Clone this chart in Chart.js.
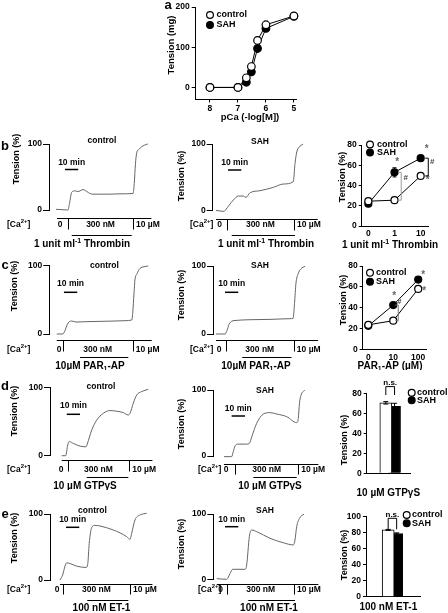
<!DOCTYPE html>
<html><head><meta charset="utf-8">
<script src="https://cdn.jsdelivr.net/npm/chart.js@4"></script>
<style>
html,body{margin:0;padding:0;background:#fff;width:448px;height:613px;overflow:hidden;position:relative}
canvas{position:absolute}
</style></head><body>
<script>
// ---------------- DATA ----------------
// panel a: pCa-tension
const pCa = [8, 7, 6.7, 6.52, 6.3, 6, 5];
const aControl = [0, 0, 24, 52, 117, 156, 178];
const aControlErr = [0, 0, 3, 5, 8, 9, 5];
const aSAH = [0, 0, 13, 39, 97, 147, 177];
const aSAHErr = [0, 0, 3, 4, 7, 6, 5];

// panel b/c right: dose responses
const thrombinDoses = ['0', '1', '10'];
const thrombinControl = [24.5, 25.5, 49.5];
const thrombinControlErr = [1.5, 1.5, 2.5];
const thrombinSAH = [22, 53, 67];
const thrombinSAHErr = [1.5, 4.5, 2];

const parDoses = ['0', '10', '100'];
const parControl = [23.5, 27.5, 58];
const parControlErr = [1.5, 1.5, 2];
const parSAH = [22.5, 42.5, 67];
const parSAHErr = [1.5, 2, 1.5];

// panel d/e right: bars
const groups = ['control', 'SAH'];
const gtpValues = [70.5, 67];
const gtpErr = [1.2, 3];
const et1Values = [83.5, 79];
const et1Err = [0.6, 0.8];

// traces: time (min) and tension (%)
const bCtrlT = [5.3, 9.8, 14.3, 15.4, 17.1, 19.6, 21.8, 23.3, 25.6, 28.4, 30.8, 33.1, 45.9, 53.4, 63.2, 64.1, 65.0, 65.9, 67.7, 69.7, 73.5, 74.4];
const bCtrlV = [1, 0.5, 0, 10, 27, 29, 28, 29, 31, 28, 25, 24, 24, 24.5, 25, 40, 70, 86, 92, 96, 99.5, 100];
const bSahT = [2.5, 8.5, 10, 12.3, 15.5, 19.3, 23.0, 25.0, 28.1, 35.6, 45.6, 53.1, 60.6, 61.9, 63.2, 64.9, 67.9];
const bSahV = [0.5, -1, 2, 8, 16, 22, 22, 20, 27, 30, 35, 40, 43.5, 71, 88, 95, 100];

const cCtrlT = [5.6, 10.1, 11.8, 13.3, 15.0, 16.8, 20.1, 26.8, 38.1, 49.4, 56.9, 62.0, 62.7, 63.7, 64.4, 65.9, 68.2, 71.2, 74.4];
const cCtrlV = [0, 0, 5, 13, 18, 19, 17.5, 18, 18.5, 19, 19.5, 20.5, 30, 60, 79, 88, 96, 98.5, 99.5];
const cSahT = [2.3, 9, 10.5, 12, 14.3, 17.3, 27.8, 42.9, 57.9, 60.2, 61.3, 62.4, 63.9, 66.2, 69.2];
const cSahV = [0, 0, 5, 14, 19, 20, 21, 21.5, 22.5, 23, 45, 75, 88, 96, 99.5];

const dCtrlT = [8.8, 11.8, 13.3, 14.5, 17.5, 22.6, 27.1, 28.0, 31.4, 35.1, 40.1, 45.1, 50.2, 55.1, 58.9, 60.2, 62.6, 65.2, 68.9, 73.9];
const dCtrlV = [0, 0, 15.6, 20.5, 18, 14, 13, 17, 37.6, 52, 62, 66, 65, 63, 59.5, 62, 76.6, 88.8, 93.7, 97];
const dSahT = [8.0, 13.8, 15.0, 16.3, 18.0, 25.1, 27.1, 28.9, 32.6, 37.6, 42.6, 47.7, 55.2, 62.7, 63.9, 64.8, 65.9, 68.9];
const dSahV = [-1, -1, 6.6, 15, 18, 18, 19, 29, 49.5, 63.6, 65.7, 63.6, 59.6, 50.5, 57, 80, 92, 100];

const eCtrlT = [7.5, 9.5, 11.3, 12.6, 15.0, 20.1, 27.1, 28.3, 29.5, 31.4, 33.8, 37.6, 47.6, 57.7, 60.2, 61.4, 63.9, 67.7, 72.7];
const eCtrlV = [0, 7.6, 21, 26, 25, 21, 19, 23, 55.5, 79.8, 82.8, 81.8, 75.8, 65.7, 61.6, 70.7, 91, 98.5, 101];
const eSahT = [2.6, 10.1, 12.6, 14.6, 17.1, 23.8, 25.1, 27.1, 28.9, 32.6, 42.6, 52.6, 60.2, 61.4, 62.7, 64.7, 68.2];
const eSahV = [1, 0, 9, 15.3, 15.3, 15.3, 22, 65.3, 75.5, 73, 62.8, 56, 52.6, 60, 80.6, 93, 100];

// protocol times (min): [Ca row start, switch to 300 nM, switch to 10 uM, Ca row end]
const bCtrlCa = [6, 14.3, 63.2, 77];
const bSahCa = [2.5, 10.5, 61.1, 79];
const cCtrlCa = [5.6, 10.1, 62.7, 77];
const cSahCa = [2.3, 9.5, 60.8, 79];
const dCtrlCa = [8.8, 13.3, 59.6, 77];
const dSahCa = [8.0, 16.3, 63.9, 79];
const eCtrlCa = [7.5, 9.5, 60.2, 77];
const eSahCa = [2.6, 10.5, 60.7, 79];
// agonist application windows (min)
const bCtrlAg = [17.1, 62.2];
const bSahAg = [14.3, 61.9];
const cCtrlAg = [23.1, 59.4];
const cSahAg = [22, 59];
const dCtrlAg = [27.6, 58.9];
const dSahAg = [30.1, 62.7];
const eCtrlAg = [28.0, 58.9];
const eSahAg = [26.3, 61.4];

// ---------------- HELPERS ----------------
const FONT = '"Liberation Sans", Arial, Helvetica, sans-serif';
Chart.defaults.font.family = FONT;
Chart.defaults.font.weight = 'bold';
Chart.defaults.color = '#000';
const XMAX = 80, PX_PER_MIN = 1.33;

function makeCanvas(left, top, w, h) {
  const c = document.createElement('canvas');
  c.width = w; c.height = h;
  c.style.left = left + 'px'; c.style.top = top + 'px';
  c.style.width = w + 'px'; c.style.height = h + 'px';
  document.body.appendChild(c);
  return c;
}
function parseRich(s) {
  const out = []; const re = /\^\{([^}]*)\}|_\{([^}]*)\}|([^^_]+)/g; let m;
  while ((m = re.exec(s))) {
    if (m[1] !== undefined) out.push({ t: m[1], m: 'sup' });
    else if (m[2] !== undefined) out.push({ t: m[2], m: 'sub' });
    else out.push({ t: m[3], m: '' });
  }
  return out;
}
function drawText(ctx, s, x, y, o = {}) {
  const size = o.size || 9, align = o.align || 'center';
  const segs = parseRich(s), small = size * 0.7;
  ctx.save();
  ctx.fillStyle = o.color || '#000'; ctx.textBaseline = 'middle'; ctx.textAlign = 'left';
  let total = 0;
  segs.forEach(g => { ctx.font = `bold ${g.m ? small : size}px ${FONT}`; g.w = ctx.measureText(g.t).width; total += g.w; });
  ctx.translate(x, y); if (o.rotate) ctx.rotate(o.rotate);
  let cx = align === 'center' ? -total / 2 : align === 'right' ? -total : 0;
  segs.forEach(g => {
    ctx.font = `bold ${g.m ? small : size}px ${FONT}`;
    const dy = g.m === 'sup' ? -size * 0.33 : g.m === 'sub' ? size * 0.28 : 0;
    ctx.fillText(g.t, cx, dy); cx += g.w;
  });
  ctx.restore();
}
function hline(ctx, x1, x2, y) { ctx.beginPath(); ctx.moveTo(x1, y); ctx.lineTo(x2, y); ctx.stroke(); }
function vline(ctx, x, y1, y2) { ctx.beginPath(); ctx.moveTo(x, y1); ctx.lineTo(x, y2); ctx.stroke(); }
const baseOpts = { responsive: false, animation: false, devicePixelRatio: 1, events: [] };

// ---------------- TRACE PANELS ----------------
function traceDecor(p) {
  return { id: 'traceDecor', afterDraw(chart) {
    const ctx = chart.ctx, xs = chart.scales.x;
    const X = t => xs.getPixelForValue(t);
    const oy = v => v - p.top, ox = v => v - p.left;
    ctx.save();
    ctx.strokeStyle = '#000'; ctx.lineWidth = 1;
    const [c0, c1, c2, c3] = p.ca;
    const ly = Math.round(oy(p.caY)) + 0.5;
    hline(ctx, X(c0), X(c3), ly);
    vline(ctx, Math.round(X(c1)) + 0.5, ly, ly + p.sepLen);
    vline(ctx, Math.round(X(c2)) + 0.5, ly, ly + p.sepLen);
    const ty = oy(p.caTextY);
    drawText(ctx, '[Ca^{2+}]', ox(p.caLabelX), ty, { align: 'left', size: 8.5 });
    drawText(ctx, '0', ox(p.zeroX), ty, { size: 8.5 });
    drawText(ctx, '300 nM', (X(c1) + X(c2)) / 2, ty, { size: 8.5 });
    drawText(ctx, '10 \u00b5M', X(c2) + 3, ty, { align: 'left', size: 8.5 });
    const ay = Math.round(oy(p.agY)) + 0.5;
    hline(ctx, X(p.ag[0]), X(p.ag[1]), ay);
    drawText(ctx, p.agLabel, ox(p.agX), oy(p.agTextY), { size: 10 });
    ctx.lineWidth = 1.5;
    hline(ctx, X(p.sb), X(p.sb + 10), oy(p.sbY));
    drawText(ctx, '10 min', (X(p.sb) + X(p.sb + 10)) / 2, oy(p.sbTextY), { size: 8.5 });
    drawText(ctx, p.title, ox(p.titleX), oy(p.titleY), { size: 8.5 });
    drawText(ctx, 'Tension (%)', ox(p.ylabX), oy(p.ylabY), { size: 9, rotate: -Math.PI / 2 });
    if (p.letter) drawText(ctx, p.letter, ox(p.letterX), oy(p.letterY), { size: 13 });
    ctx.restore();
  }};
}
function tracePanel(p) {
  const c = makeCanvas(p.left, p.top, p.w, p.h);
  const axisRel = p.axisX - p.left, chartW = XMAX * PX_PER_MIN;
  new Chart(c, {
    type: 'line',
    data: { datasets: [{ data: p.t.map((t, i) => ({ x: t, y: p.v[i] })), borderColor: '#666', borderWidth: 1,
      pointRadius: 0, cubicInterpolationMode: 'monotone', clip: false, fill: false }] },
    options: Object.assign({}, baseOpts, {
      layout: { padding: { left: 0, top: p.y100 - p.top, right: p.w - axisRel - chartW, bottom: p.top + p.h - p.y0 } },
      plugins: { legend: { display: false }, tooltip: { enabled: false } },
      scales: {
        x: { type: 'linear', display: false, min: 0, max: XMAX },
        y: { type: 'linear', min: 0, max: 100, afterFit: s => { s.width = axisRel; },
          border: { display: true, color: '#000', width: 1 },
          grid: { drawOnChartArea: false, drawTicks: true, tickLength: 6, color: '#000', lineWidth: 1 },
          ticks: { stepSize: 100, padding: 1, color: '#000', font: { size: 8.5, weight: 'bold' } } }
      }
    }),
    plugins: [traceDecor(p)]
  });
}

// ---------------- DOSE / BAR PANELS ----------------
function legendDraw(ctx, chart, lg, ox, oy) {
  chart.data.datasets.forEach((ds, i) => {
    const cx = ox(lg.x), cy = oy(lg.y + i * lg.dy);
    ctx.beginPath(); ctx.arc(cx, cy, 3.4, 0, Math.PI * 2);
    ctx.fillStyle = ds.legendFill; ctx.fill();
    ctx.strokeStyle = '#000'; ctx.lineWidth = 1.2; ctx.stroke();
    drawText(ctx, ds.label, ox(lg.textX), cy, { align: 'left', size: 9 });
  });
}
function errorBars(chart, capW) {
  const ctx = chart.ctx, ys = chart.scales.y;
  ctx.save(); ctx.strokeStyle = '#000'; ctx.lineWidth = 1;
  chart.data.datasets.forEach((ds, di) => {
    const meta = chart.getDatasetMeta(di);
    meta.data.forEach((el, i) => {
      const e = ds.err[i]; if (!e) return;
      const v = ds.data[i].y;
      const y1 = ys.getPixelForValue(v + e), y2 = ys.getPixelForValue(v - e);
      vline(ctx, el.x, y1, y2);
      hline(ctx, el.x - capW, el.x + capW, y1);
      hline(ctx, el.x - capW, el.x + capW, y2);
    });
  });
  ctx.restore();
}
function dosePanel(p) {
  const c = makeCanvas(p.left, p.top, p.w, p.h);
  const axisRel = p.axisX - p.left, XH = 14;
  const mk = (label, vals, err, fill) => ({ label, data: vals.map((v, i) => ({ x: i, y: v })), err, legendFill: fill,
    borderColor: '#000', borderWidth: 1, pointRadius: 3.5, pointBackgroundColor: fill, pointBorderColor: '#000',
    pointBorderWidth: 1.2, clip: false, fill: false, tension: 0 });
  new Chart(c, {
    type: 'line',
    data: { datasets: [mk('control', p.ctrl, p.ctrlErr, '#fff'), mk('SAH', p.sah, p.sahErr, '#000')] },
    options: Object.assign({}, baseOpts, {
      layout: { padding: { left: 0, top: p.yTop - p.top, right: p.w - (p.xRight - p.left), bottom: p.top + p.h - p.y0 - XH } },
      plugins: { legend: { display: false }, tooltip: { enabled: false } },
      scales: {
        x: { type: 'linear', min: p.xmin, max: p.xmax, afterFit: s => { s.height = XH; },
          border: { display: true, color: '#000', width: 1 },
          grid: { drawOnChartArea: false, drawTicks: false },
          ticks: { stepSize: 1, includeBounds: false, padding: 3, autoSkip: false, maxRotation: 0,
            callback: v => p.labels[v] !== undefined ? p.labels[v] : '', font: { size: 8.5, weight: 'bold' } } },
        y: { type: 'linear', min: 0, max: p.ymax, afterFit: s => { s.width = axisRel; },
          border: { display: true, color: '#000', width: 1 },
          grid: { drawOnChartArea: false, drawTicks: true, tickLength: 3, color: '#000' },
          ticks: { stepSize: 20, padding: 2, font: { size: 8.5, weight: 'bold' } } }
      }
    }),
    plugins: [{ id: 'doseDecor',
      beforeDatasetsDraw(chart) { errorBars(chart, 2); },
      afterDraw(chart) {
        const ctx = chart.ctx, ox = v => v - p.left, oy = v => v - p.top;
        const m0 = chart.getDatasetMeta(0).data, m1 = chart.getDatasetMeta(1).data;
        ctx.save();
        p.stars.forEach(s => {
          const el = chart.getDatasetMeta(s.ds).data[s.i];
          drawText(ctx, '*', el.x + s.dx, el.y + s.dy, { size: 10, color: '#666' });
        });
        p.hashes.forEach(h => {
          const xx = m1[h.i].x + h.dx, ya = m1[h.i].y, yb = m0[h.i].y;
          ctx.strokeStyle = h.color; ctx.lineWidth = 1;
          ctx.beginPath(); ctx.moveTo(xx - 3, ya); ctx.lineTo(xx, ya); ctx.lineTo(xx, yb); ctx.lineTo(xx - 3, yb); ctx.stroke();
          drawText(ctx, '#', xx + h.tx, ya + h.ty, { size: 8, color: '#444' });
        });
        legendDraw(ctx, chart, p.legend, ox, oy);
        drawText(ctx, p.xTitle, ox(p.xTitleX), oy(p.xTitleY), { size: 10 });
        drawText(ctx, 'Tension (%)', ox(p.ylabX), oy(p.ylabY), { size: 9, rotate: -Math.PI / 2 });
        ctx.restore();
      } }]
  });
}
function barPanel(p) {
  const c = makeCanvas(p.left, p.top, p.w, p.h);
  const axisRel = p.axisX - p.left;
  const mk = (i, fill) => ({ label: groups[i], data: [{ x: i, y: p.vals[i] }], err: [p.err[i]], legendFill: fill,
    backgroundColor: fill, borderColor: '#000', borderWidth: 1, barThickness: 12, grouped: false, clip: false });
  new Chart(c, {
    type: 'bar',
    data: { datasets: [mk(0, '#fff'), mk(1, '#000')] },
    options: Object.assign({}, baseOpts, {
      layout: { padding: { left: 0, top: p.yTop - p.top, right: p.w - (p.xRight - p.left), bottom: p.top + p.h - p.y0 } },
      plugins: { legend: { display: false }, tooltip: { enabled: false } },
      scales: {
        x: { type: 'linear', min: p.xmin, max: p.xmax, afterFit: s => { s.height = 0; },
          border: { display: true, color: '#000', width: 1 },
          grid: { display: false }, ticks: { display: false } },
        y: { type: 'linear', min: 0, max: p.ymax, afterFit: s => { s.width = axisRel; },
          border: { display: true, color: '#000', width: 1 },
          grid: { drawOnChartArea: false, drawTicks: true, tickLength: 3, color: '#000' },
          ticks: { stepSize: 20, padding: 2, font: { size: 8.5, weight: 'bold' } } }
      }
    }),
    plugins: [{ id: 'barDecor',
      afterDatasetsDraw(chart) { errorBars(chart, 2.5); },
      afterDraw(chart) {
        const ctx = chart.ctx, ox = v => v - p.left, oy = v => v - p.top, ys = chart.scales.y;
        const xa = chart.getDatasetMeta(0).data[0].x, xb = chart.getDatasetMeta(1).data[0].x;
        const yt = ys.getPixelForValue(p.ns[0]), yl = ys.getPixelForValue(p.ns[1]);
        ctx.save(); ctx.strokeStyle = '#000'; ctx.lineWidth = 1;
        ctx.beginPath(); ctx.moveTo(xa, yl); ctx.lineTo(xa, yt); ctx.lineTo(xb, yt); ctx.lineTo(xb, yl); ctx.stroke();
        drawText(ctx, 'n.s.', (xa + xb) / 2, yt - 4, { size: 8 });
        legendDraw(ctx, chart, p.legend, ox, oy);
        drawText(ctx, p.xTitle, ox(p.xTitleX), oy(p.xTitleY), { size: 10 });
        drawText(ctx, 'Tension (%)', ox(p.ylabX), oy(p.ylabY), { size: 9, rotate: -Math.PI / 2 });
        ctx.restore();
      } }]
  });
}

// ---------------- PANEL a ----------------
(function panelA() {
  const left = 150, top = 0, w = 160, h = 124, axisX = 195.7, xRight = 296.7, yTop = 5.7, xAxisY = 99.5, XH = 12;
  const c = makeCanvas(left, top, w, h);
  const mk = (label, vals, err, fill) => ({ label, data: pCa.map((x, i) => ({ x, y: vals[i] })), err, legendFill: fill,
    borderColor: '#000', borderWidth: 1, pointRadius: 3.8, pointBackgroundColor: fill, pointBorderColor: '#000',
    pointBorderWidth: 1.2, clip: false, fill: false, tension: 0 });
  new Chart(c, {
    type: 'line',
    data: { datasets: [mk('control', aControl, aControlErr, '#fff'), mk('SAH', aSAH, aSAHErr, '#000')] },
    options: Object.assign({}, baseOpts, {
      layout: { padding: { left: 0, top: yTop - top, right: w - (xRight - left), bottom: top + h - xAxisY - XH } },
      plugins: { legend: { display: false }, tooltip: { enabled: false } },
      scales: {
        x: { type: 'linear', reverse: true, min: 4.9, max: 8.51, afterFit: s => { s.height = XH; },
          border: { display: true, color: '#000', width: 1 },
          grid: { drawOnChartArea: false, drawTicks: true, tickLength: 3, color: '#000' },
          ticks: { stepSize: 1, includeBounds: false, padding: 1, font: { size: 8.5, weight: 'bold' } } },
        y: { type: 'linear', min: -30, max: 200, afterFit: s => { s.width = axisX - left; },
          border: { display: true, color: '#000', width: 1 },
          grid: { drawOnChartArea: false, drawTicks: true, tickLength: 4, color: '#000' },
          ticks: { stepSize: 100, includeBounds: false, padding: 2, font: { size: 8.5, weight: 'bold' } } }
      }
    }),
    plugins: [{ id: 'aDecor',
      beforeDatasetsDraw(chart) { errorBars(chart, 2); },
      afterDraw(chart) {
        const ctx = chart.ctx, ox = v => v - left, oy = v => v - top;
        ctx.save();
        legendDraw(ctx, chart, { x: 210, y: 15, dy: 10, textX: 216.5 }, ox, oy);
        drawText(ctx, 'pCa (-log[M])', ox(250), oy(117), { size: 9.5 });
        drawText(ctx, 'Tension (mg)', ox(171.5), oy(45), { size: 9.5, rotate: -Math.PI / 2 });
        drawText(ctx, 'a', ox(168), oy(5), { size: 13 });
        ctx.restore();
      } }]
  });
})();

// ---------------- build panels ----------------
const thr = '1 unit ml^{-1} Thrombin', par = '10\u00b5M PAR_{1}-AP', gtp = '10 \u00b5M GTP\u03b3S', et1 = '100 nM ET-1';
tracePanel({ left: 0, top: 120, w: 160, h: 130, axisX: 49, y100: 144, y0: 210, t: bCtrlT, v: bCtrlV,
  ca: bCtrlCa, caY: 218, sepLen: 11, caTextY: 224.5, caLabelX: 7, zeroX: 60,
  ag: bCtrlAg, agY: 235, agLabel: thr, agX: 82, agTextY: 244.5,
  sb: 12, sbY: 169.5, sbTextY: 162.5, title: 'control', titleX: 102, titleY: 141, ylabX: 17, ylabY: 159,
  letter: 'b', letterX: 5, letterY: 146 });
tracePanel({ left: 150, top: 120, w: 175, h: 130, axisX: 212.7, y100: 144, y0: 210.7, t: bSahT, v: bSahV,
  ca: bSahCa, caY: 218.5, sepLen: 11, caTextY: 224.5, caLabelX: 190, zeroX: 219.5,
  ag: bSahAg, agY: 235, agLabel: thr, agX: 266, agTextY: 244.5,
  sb: 11.5, sbY: 170, sbTextY: 163, title: 'SAH', titleX: 260, titleY: 142, ylabX: 181.7, ylabY: 176 });
tracePanel({ left: 0, top: 250, w: 160, h: 120, axisX: 49.3, y100: 265.7, y0: 334, t: cCtrlT, v: cCtrlV,
  ca: cCtrlCa, caY: 340, sepLen: 11, caTextY: 349.3, caLabelX: 7, zeroX: 59,
  ag: cCtrlAg, agY: 357.3, agLabel: par, agX: 90, agTextY: 366.7,
  sb: 11, sbY: 292.3, sbTextY: 284, title: 'control', titleX: 104.5, titleY: 266, ylabX: 15, ylabY: 286,
  letter: 'c', letterX: 5, letterY: 265 });
tracePanel({ left: 150, top: 250, w: 175, h: 120, axisX: 213, y100: 266, y0: 334, t: cSahT, v: cSahV,
  ca: cSahCa, caY: 340, sepLen: 11, caTextY: 349.3, caLabelX: 190, zeroX: 219,
  ag: cSahAg, agY: 357.3, agLabel: par, agX: 256, agTextY: 366.7,
  sb: 9, sbY: 292.3, sbTextY: 284, title: 'SAH', titleX: 260, titleY: 266, ylabX: 181.7, ylabY: 295 });
tracePanel({ left: 0, top: 370, w: 160, h: 120, axisX: 50, y100: 387.3, y0: 455.7, t: dCtrlT, v: dCtrlV,
  ca: dCtrlCa, caY: 460, sepLen: 11, caTextY: 469.3, caLabelX: 7, zeroX: 61,
  ag: dCtrlAg, agY: 477.3, agLabel: gtp, agX: 85, agTextY: 486.7,
  sb: 12.6, sbY: 414.3, sbTextY: 406, title: 'control', titleX: 101, titleY: 386.7, ylabX: 15, ylabY: 411,
  letter: 'd', letterX: 5, letterY: 386 });
tracePanel({ left: 150, top: 370, w: 175, h: 120, axisX: 213.3, y100: 390, y0: 456, t: dSahT, v: dSahV,
  ca: dSahCa, caY: 464, sepLen: 10, caTextY: 469.3, caLabelX: 198, zeroX: 226,
  ag: dSahAg, agY: 477.3, agLabel: gtp, agX: 270, agTextY: 486.7,
  sb: 13.8, sbY: 416, sbTextY: 409, title: 'SAH', titleX: 265, titleY: 390.7, ylabX: 181.7, ylabY: 424 });
tracePanel({ left: 0, top: 490, w: 160, h: 123, axisX: 50, y100: 514, y0: 580, t: eCtrlT, v: eCtrlV,
  ca: eCtrlCa, caY: 584, sepLen: 10, caTextY: 589.3, caLabelX: 7, zeroX: 57,
  ag: eCtrlAg, agY: 600, agLabel: et1, agX: 101.5, agTextY: 608,
  sb: 12, sbY: 527.3, sbTextY: 520, title: 'control', titleX: 92.5, titleY: 510.7, ylabX: 15, ylabY: 538,
  letter: 'e', letterX: 5, letterY: 514 });
tracePanel({ left: 150, top: 490, w: 175, h: 123, axisX: 213.3, y100: 514, y0: 579.3, t: eSahT, v: eSahV,
  ca: eSahCa, caY: 584, sepLen: 10, caTextY: 589.3, caLabelX: 198, zeroX: 220.7,
  ag: eSahAg, agY: 600, agLabel: et1, agX: 269, agTextY: 608,
  sb: 8.8, sbY: 526.7, sbTextY: 519.3, title: 'SAH', titleX: 265, titleY: 510.7, ylabX: 181.7, ylabY: 544 });

dosePanel({ left: 300, top: 120, w: 148, h: 130, axisX: 361.7, xRight: 428, yTop: 145, y0: 226, ymax: 80,
  xmin: -0.254, xmax: 2.28, labels: thrombinDoses, ctrl: thrombinControl, ctrlErr: thrombinControlErr,
  sah: thrombinSAH, sahErr: thrombinSAHErr,
  stars: [{ ds: 1, i: 1, dx: 2.7, dy: -10 }, { ds: 1, i: 2, dx: 6, dy: -9 }, { ds: 0, i: 2, dx: 7, dy: 4 }],
  hashes: [{ i: 1, dx: 6.7, tx: 4.5, ty: 5, color: '#999' }, { i: 2, dx: 7.6, tx: 4, ty: 4, color: '#000' }],
  legend: { x: 370, y: 144.5, dy: 8, textX: 377 }, xTitle: thr, xTitleX: 390, xTitleY: 245, ylabX: 343, ylabY: 177 });
dosePanel({ left: 300, top: 250, w: 148, h: 120, axisX: 362.7, xRight: 426.7, yTop: 266, y0: 349.3, ymax: 80,
  xmin: -0.224, xmax: 2.34, labels: parDoses, ctrl: parControl, ctrlErr: parControlErr,
  sah: parSAH, sahErr: parSAHErr,
  stars: [{ ds: 1, i: 1, dx: 1, dy: -9 }, { ds: 1, i: 2, dx: 5, dy: -4 }, { ds: 0, i: 2, dx: 6, dy: 2 }],
  hashes: [{ i: 1, dx: 5, tx: 1, ty: -3, color: '#777' }],
  legend: { x: 370, y: 272.7, dy: 9, textX: 376 }, xTitle: 'PAR_{1}-AP (\u00b5M)', xTitleX: 390, xTitleY: 366.5, ylabX: 343.3, ylabY: 300 });
barPanel({ left: 300, top: 370, w: 148, h: 128, axisX: 366.7, xRight: 410, yTop: 393.3, y0: 473.3, ymax: 80,
  xmin: -0.95, xmax: 1.53, vals: gtpValues, err: gtpErr, ns: [86.7, 78.3],
  legend: { x: 411.7, y: 392.7, dy: 7.5, textX: 417 }, xTitle: gtp, xTitleX: 388.3, xTitleY: 493, ylabX: 345, ylabY: 440 });
barPanel({ left: 300, top: 498, w: 148, h: 115, axisX: 366, xRight: 420, yTop: 516.7, y0: 596.7, ymax: 100,
  xmin: -1.02, xmax: 2.16, vals: et1Values, err: et1Err, ns: [98, 84.3],
  legend: { x: 406.7, y: 515, dy: 8.3, textX: 412 }, xTitle: et1, xTitleX: 388.3, xTitleY: 607, ylabX: 345, ylabY: 555 });
</script>
</body></html>
